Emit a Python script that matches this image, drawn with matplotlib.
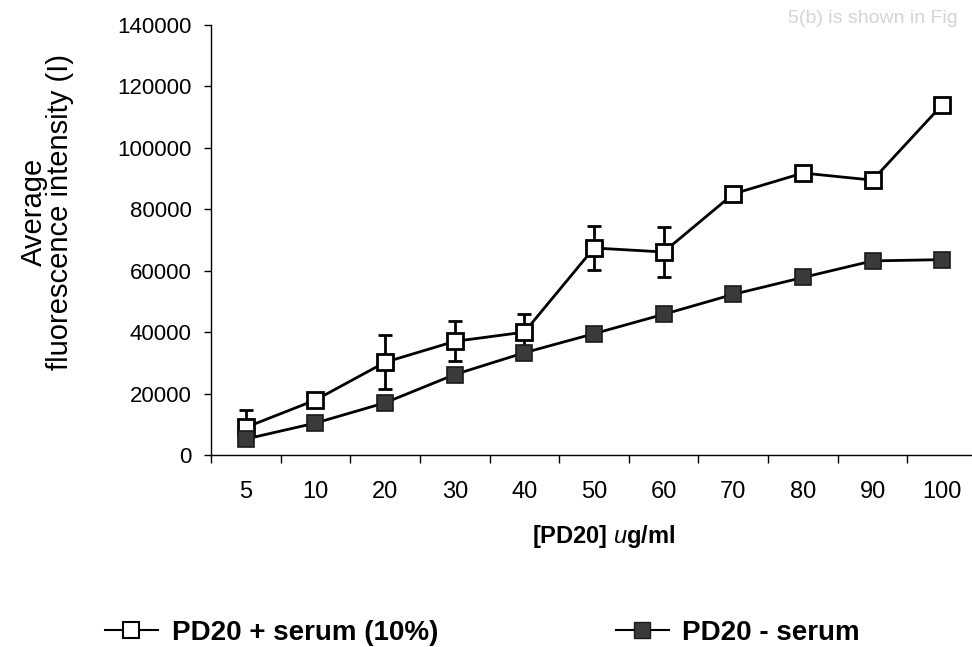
import numpy as np
import matplotlib.pyplot as plt
from matplotlib.lines import Line2D

plt.rcParams['font.family'] = ['Liberation Sans', 'DejaVu Sans']
plt.rcParams['mathtext.fontset'] = 'custom'
plt.rcParams['mathtext.it'] = 'Liberation Sans:italic'

# PD20 concentrations (ug/ml)
conc = ['5', '10', '20', '30', '40', '50', '60', '70', '80', '90', '100']

# average fluorescence intensity
with_serum = [9000, 17900, 30200, 37000, 40000, 67400, 66100, 85000, 91800, 89500, 114000]
with_serum_err = [5500, 0, 8800, 6500, 6000, 7200, 8000, 0, 1500, 0, 0]
without_serum = [5200, 10400, 17000, 26200, 33300, 39500, 45800, 52300, 57800, 63200, 63600]

y_ticks = [0, 20000, 40000, 60000, 80000, 100000, 120000, 140000]

fig = plt.figure(figsize=(9.72, 6.47), dpi=100)
ax = fig.add_axes([211 / 972, 1 - 455 / 647, 766 / 972, 430 / 647])

x = np.arange(len(conc))

ax.errorbar(x, with_serum, yerr=with_serum_err, color='black', lw=2,
            marker='s', markersize=12, markerfacecolor='white',
            markeredgecolor='black', markeredgewidth=2,
            capsize=5, capthick=2, elinewidth=2, zorder=2)
ax.plot(x, without_serum, color='black', lw=2, marker='s', markersize=12,
        markerfacecolor='#3a3a3a', markeredgecolor='#1a1a1a',
        markeredgewidth=1.2, zorder=3)

ax.set_xlim(-0.5, len(conc) - 0.5)
ax.set_ylim(0, 140000)
ax.set_yticks(y_ticks)
ax.set_yticklabels([str(v) for v in y_ticks])

ax.set_xticks(x)
ax.set_xticklabels(conc)
ax.set_xticks(np.arange(-0.5, len(conc)), minor=True)
ax.tick_params(axis='x', which='major', length=0, pad=19, labelsize=17)
ax.tick_params(axis='x', which='minor', length=6, width=1, direction='out')
ax.tick_params(axis='y', length=5, width=1, pad=9, labelsize=16)

for s in ['top', 'right']:
    ax.spines[s].set_visible(False)
for s in ['left', 'bottom']:
    ax.spines[s].set_linewidth(1)

fig.text(47 / 972, 1 - 212 / 647, 'Average\nfluorescence intensity (I)',
         rotation=90, ha='center', va='center', multialignment='center',
         fontsize=21, linespacing=0.95)
fig.text(604 / 972, 1 - 537 / 647, r'[PD20] $\mathit{u}$g/ml',
         ha='center', va='center', fontsize=17, fontweight='bold')

handles = [
    Line2D([], [], color='black', lw=1.5, marker='s', markersize=11,
           markerfacecolor='white', markeredgecolor='black', markeredgewidth=1.5),
    Line2D([], [], color='black', lw=1.5, marker='s', markersize=12,
           markerfacecolor='#3a3a3a', markeredgecolor='#1a1a1a', markeredgewidth=1),
]
labels = ['PD20 + serum (10%)', 'PD20 - serum']
fig.legend(handles, labels, ncol=2, loc='center left',
           bbox_to_anchor=(105 / 972, 1 - 633 / 647),
           frameon=False, prop={'size': 20, 'weight': 'bold'},
           borderpad=0, borderaxespad=0,
           handlelength=1.9, handletextpad=0.5, columnspacing=6.4)

# faint show-through text in the scan
fig.text(0.985, 0.985, '5(b) is shown in Fig', ha='right', va='top',
         fontsize=14, color='#d4d4d4')

fig.savefig('out.png', dpi=100)
